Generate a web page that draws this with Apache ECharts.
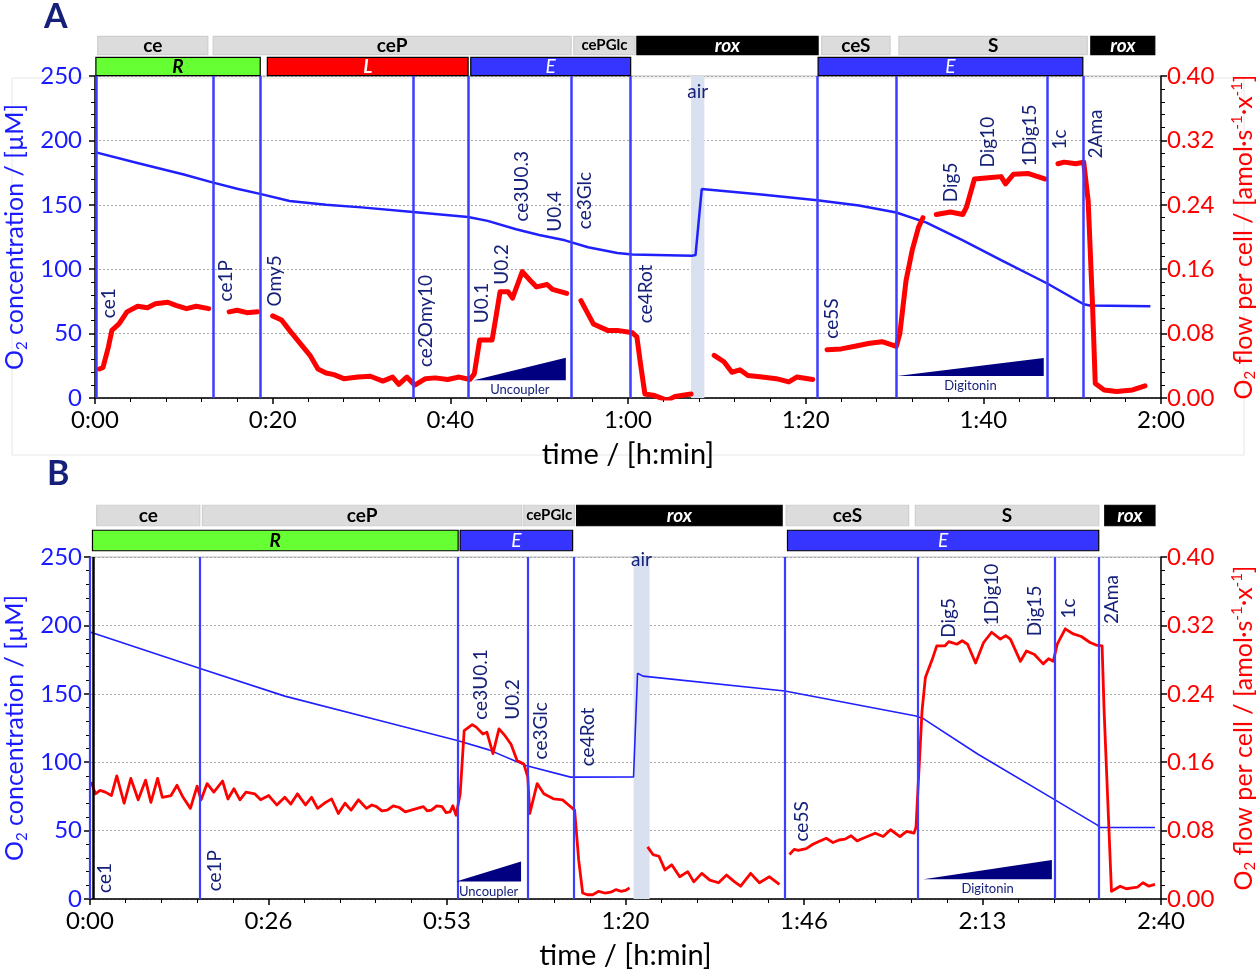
<!DOCTYPE html>
<html>
<head>
<meta charset="utf-8">
<script src="https://cdn.jsdelivr.net/npm/echarts@6.0.0/dist/echarts.min.js"></script>
<style>
  html, body { margin: 0; background: #fff; }
  #chart { width: 1258px; height: 972px; }
</style>
</head>
<body>
<div id="chart"></div>
<script>
// ---- panel A data (time in min, O2 in µM, flow in amol/s/x) ----
const o2A = [[0, 190.9], [5, 182], [10, 173.5], [13.2, 167.4], [16, 162.5], [18.7, 158.3], [21.9, 153],
  [26, 150], [30, 148], [35.8, 144.5], [42, 140.6], [44.2, 137.5], [47.4, 131], [50, 126.5], [52.9, 122.4],
  [55.5, 117], [58.8, 112.5], [60.5, 111.5], [67.2, 110.4], [67.6, 111], [68.3, 162.2], [75, 158],
  [81.3, 153.6], [86, 149.5], [90.2, 144], [93.6, 136.2], [97.7, 122.4], [102, 107], [107.2, 88.9],
  [111.3, 72.8], [112, 71.8], [118.8, 71.2]];
const fluxA = [
  [[0.5, 0.036], [0.9, 0.038], [1.5, 0.063], [1.9, 0.084], [2.7, 0.092], [3.6, 0.107], [4.8, 0.114], [5.9, 0.112],
   [6.8, 0.117], [8.2, 0.119], [9.1, 0.115], [10.3, 0.111], [11.4, 0.114], [12.8, 0.111]],
  [[15.1, 0.107], [16.0, 0.109], [17.1, 0.106], [18.3, 0.107]],
  [[20.0, 0.102], [21.0, 0.097], [21.9, 0.084], [23.3, 0.065], [24.2, 0.053], [25.1, 0.036], [26.0, 0.031],
   [26.9, 0.029], [28.0, 0.024], [29.6, 0.026], [31.0, 0.027], [32.4, 0.021], [33.5, 0.026], [34.2, 0.017],
   [35.1, 0.026], [36.0, 0.016], [37.2, 0.024], [38.3, 0.025], [39.7, 0.023], [41.0, 0.026], [42.2, 0.023],
   [42.7, 0.030], [43.3, 0.072], [44.7, 0.072], [45.2, 0.105], [45.6, 0.132], [46.5, 0.132], [47.0, 0.124],
   [48.1, 0.157], [49.0, 0.146], [49.7, 0.138], [50.9, 0.141], [51.5, 0.135], [53.1, 0.130]],
  [[54.7, 0.121], [56.1, 0.092], [57.7, 0.084], [58.8, 0.084], [60.5, 0.081], [61.0, 0.076], [61.4, 0.043],
   [61.9, 0.005], [63.0, 0.003], [64.4, -0.003], [65.3, 0.002], [67.1, 0.005]],
  [[69.7, 0.053], [70.8, 0.045], [71.7, 0.032], [72.6, 0.035], [73.5, 0.028], [75.1, 0.026], [76.7, 0.024],
   [78.1, 0.020], [79.0, 0.026], [80.8, 0.023]],
  [[82.4, 0.060], [84.0, 0.061], [85.4, 0.064], [87.2, 0.068], [88.6, 0.070], [90.2, 0.064], [90.6, 0.080],
   [91.3, 0.146], [92.0, 0.184], [92.7, 0.212], [93.2, 0.224]],
  [[94.7, 0.228], [96.3, 0.231], [97.7, 0.228], [98.1, 0.237], [99.0, 0.272], [100.9, 0.274], [102.0, 0.275],
   [102.5, 0.266], [103.4, 0.278], [105.0, 0.279], [107.0, 0.272]],
  [[108.4, 0.291], [109.1, 0.293], [110.4, 0.291], [111.3, 0.293], [111.8, 0.245], [112.3, 0.113], [112.6, 0.018],
   [113.6, 0.010], [115.0, 0.008], [116.8, 0.010], [118.2, 0.015]]
];
const eventsA = [0.1, 13.3, 18.6, 35.8, 42.0, 53.6, 60.3, 81.3, 90.2, 107.2, 111.2];
const labelsA = [['ce1', 1.6, 62], ['ce1P', 14.7, 75], ['Omy5', 20.3, 71], ['ce2Omy10', 37.3, 24],
  ['U0.1', 43.6, 58], ['U0.2', 45.8, 88], ['ce3U0.3', 48.1, 137], ['U0.4', 51.8, 129], ['ce3Glc', 55.2, 131],
  ['ce4Rot', 62.05, 58], ['ce5S', 83, 46], ['Dig5', 96.3, 152], ['Dig10', 100.5, 179], ['1Dig15', 105.2, 180],
  ['1c', 108.6, 193], ['2Ama', 112.7, 186]];
const airA = [67.1, 68.6, 238];
const rampsA = [['Uncoupler', 42.65, 53.0, 13.7, 31.3, 6], ['Digitonin', 90.3, 106.8, 17.1, 31.1, 9.6]];
const bandsA = [['ce', 0.3, 12.7], ['ceP', 13.3, 53.6], ['cePGlc', 53.9, 60.8], ['rox', 61.0, 81.4],
  ['ceS', 81.8, 89.5], ['S', 90.5, 111.7], ['rox', 112.1, 119.3],
  ['R', 0.1, 18.6], ['L', 19.4, 42.0], ['E', 42.3, 60.3], ['E', 81.4, 111.2]];

// ---- panel B data ----
const o2B = [[0, 195.1], [16.45, 168.5], [29.1, 148.3], [43.4, 130.3], [55, 115.7], [59.6, 109], [65.1, 97.6],
  [71.8, 89.1], [81.2, 89.2], [81.8, 165], [82.6, 162.9], [103.8, 152], [123.4, 133.8], [124.6, 131.5],
  [132.6, 106], [144.1, 72.6], [150.5, 54], [150.9, 52.3], [159.1, 52.3]];
const fluxB = [
  [[0.2, 0.137], [0.8, 0.123], [1.5, 0.127], [2.3, 0.125], [3.2, 0.121], [4.0, 0.144], [5.1, 0.112], [6.1, 0.141],
   [7.2, 0.116], [8.3, 0.139], [9.1, 0.113], [10.1, 0.141], [10.8, 0.119], [12.1, 0.121], [13.0, 0.133],
   [13.9, 0.119], [15.0, 0.106], [16.0, 0.132], [16.6, 0.116], [17.5, 0.135], [18.5, 0.125], [19.8, 0.138],
   [20.6, 0.117], [21.5, 0.129], [22.4, 0.116], [23.3, 0.125], [24.6, 0.123], [25.5, 0.116], [26.7, 0.121],
   [27.9, 0.110], [29.1, 0.119], [30.0, 0.111], [31.0, 0.123], [32.2, 0.110], [33.1, 0.119], [34.0, 0.106],
   [35.2, 0.113], [36.1, 0.117], [37.1, 0.100], [38.1, 0.112], [39.0, 0.104], [40.1, 0.116], [41.3, 0.106],
   [42.1, 0.110], [42.8, 0.108], [43.6, 0.103], [44.4, 0.104], [45.3, 0.109], [46.2, 0.107], [47.1, 0.102],
   [48.0, 0.104], [48.9, 0.106], [49.8, 0.108], [50.4, 0.103], [51.0, 0.104], [51.8, 0.109], [52.6, 0.108],
   [53.2, 0.101], [53.8, 0.102], [54.2, 0.109], [54.7, 0.098],
   [55.3, 0.123], [55.9, 0.197], [57.1, 0.204], [57.7, 0.201], [58.7, 0.193], [59.3, 0.195], [60.2, 0.170],
   [61.1, 0.199], [62.0, 0.191], [62.9, 0.181], [63.8, 0.162], [64.8, 0.158], [65.4, 0.143], [65.7, 0.100],
   [66.8, 0.135], [67.8, 0.123], [69.3, 0.117], [70.6, 0.116], [71.5, 0.110], [72.4, 0.104], [73.0, 0.046],
   [73.6, 0.007], [74.3, 0.005], [75.1, 0.005], [76.0, 0.009], [76.9, 0.007], [77.8, 0.008], [78.6, 0.011],
   [79.3, 0.009], [80.0, 0.010], [80.6, 0.013]],
  [[83.3, 0.061], [84.1, 0.052], [85.0, 0.050], [85.9, 0.034], [86.9, 0.040], [88.1, 0.026], [89.3, 0.032],
   [90.2, 0.020], [91.4, 0.030], [92.6, 0.022], [93.9, 0.019], [95.1, 0.028], [96.3, 0.020], [97.2, 0.015],
   [98.7, 0.030], [100.0, 0.019], [101.5, 0.026], [103.0, 0.017]],
  [[104.5, 0.052], [105.2, 0.058], [105.8, 0.057], [107.0, 0.059], [108.0, 0.064], [108.8, 0.067],
   [110.0, 0.071], [111.0, 0.066], [111.9, 0.069], [112.8, 0.070], [113.7, 0.074], [114.6, 0.068],
   [115.5, 0.071], [116.4, 0.074], [117.3, 0.077], [118.5, 0.073], [119.6, 0.081], [121.0, 0.073],
   [122.0, 0.079], [123.1, 0.077], [123.4, 0.084],
   [124.3, 0.220], [124.8, 0.259], [125.9, 0.282], [126.5, 0.296], [127.7, 0.296], [128.3, 0.301],
   [129.5, 0.298], [130.3, 0.302], [131.1, 0.298], [132.3, 0.276], [133.5, 0.300], [134.7, 0.312],
   [136.0, 0.304], [136.8, 0.308], [137.5, 0.304], [139.0, 0.278], [139.9, 0.290], [141.1, 0.286],
   [142.4, 0.275], [143.2, 0.281], [143.9, 0.278], [144.5, 0.298], [145.7, 0.316], [146.9, 0.310],
   [148.1, 0.307], [149.4, 0.300], [150.3, 0.297], [151.2, 0.296], [151.5, 0.220], [152.6, 0.009],
   [153.9, 0.015], [154.8, 0.012], [155.7, 0.013], [156.5, 0.014], [157.3, 0.019], [158.2, 0.015],
   [159.1, 0.017]]
];
const eventsB = [0, 16.45, 55.0, 65.4, 72.2, 103.8, 123.6, 144.1, 150.7];
const startMarkB = [0.45];
const labelsB = [['ce1', 2.2, 4.4], ['ce1P', 18.65, 5.6], ['ce3U0.1', 58.4, 131], ['U0.2', 63.1, 131],
  ['ce3Glc', 67.3, 102], ['ce4Rot', 74.4, 97], ['ce5S', 106.4, 42], ['Dig5', 128.3, 191],
  ['1Dig10', 134.7, 200], ['Dig15', 141.2, 192], ['1c', 146.3, 205], ['2Ama', 152.7, 201]];
const airB = [81.2, 83.6, 248];
const rampsB = [['Uncoupler', 54.7, 64.4, 12.8, 27.4, 5.6], ['Digitonin', 124.5, 143.7, 14.5, 28.6, 7.5]];
const bandsB = [['ce', 1.0, 16.4], ['ceP', 16.8, 64.5], ['cePGlc', 64.8, 72.4], ['rox', 72.7, 103.4],
  ['ceS', 104.0, 122.3], ['S', 123.3, 150.7], ['rox', 151.6, 159.1],
  ['R', 0.37, 55.0], ['E', 55.3, 72.1], ['E', 104.2, 150.7]];

const ticksA = { min: 0, max: 120, interval: 20 };
const ticksB = { min: 0, max: 160, interval: 80 / 3 };
const o2Ticks = { min: 0, max: 250, interval: 50 };
const fluxTicks = { min: 0, max: 0.4, interval: 0.08 };

// ---- styling ----
const FONT = 'Lato, "Open Sans", sans-serif';
const NAVY = '#16217a';
const BLUE = '#1a1aff';
const RED = '#ff0000';
const LINEBLUE = '#3d3dff';

function hmm(v) {
  const m = Math.floor(v + 1e-6);
  return Math.floor(m / 60) + ':' + String(m % 60).padStart(2, '0');
}

function joinSegments(segs) {
  const out = [];
  segs.forEach((s, i) => {
    if (i) out.push([(out[out.length - 1][0] + s[0][0]) / 2, null]);
    s.forEach(p => out.push(p));
  });
  return out;
}

const rowTwo = ['R', 'L', 'E'];
function bandLook(name) {
  if (name === 'rox') return { fill: '#000', stroke: '#000', color: '#fff', font: 'italic bold 19px ' + FONT };
  if (name === 'R') return { fill: '#66ff33', stroke: '#000', color: '#000', font: 'italic bold 19px ' + FONT };
  if (name === 'L') return { fill: '#ff0000', stroke: '#000', color: '#fff', font: 'italic bold 19px ' + FONT };
  if (name === 'E') return { fill: '#3535ff', stroke: '#000', color: '#fff', font: 'italic 19px ' + FONT };
  const small = name.length > 4;
  return { fill: '#dcdcdc', stroke: '#cfcfcf', color: '#000', font: 'bold ' + (small ? 15 : 19) + 'px ' + FONT };
}

function bandSeries(bands, xi, yi, fill) {
  return {
    type: 'custom', xAxisIndex: xi, yAxisIndex: yi, clip: false, silent: true,
    data: bands.map(b => [b[1], b[2], rowTwo.includes(b[0]) ? 0.5 : 1.5]),
    encode: { x: [0, 1], y: 2 },
    renderItem: (params, api) => {
      const b = bands[params.dataIndex];
      const row = api.value(2);
      const p0 = api.coord([b[1], row]);
      const p1 = api.coord([b[2], row]);
      const h = api.size([0, 1])[1] * fill;
      const look = bandLook(b[0]);
      return {
        type: 'rect',
        shape: { x: p0[0], y: p0[1] - h / 2, width: p1[0] - p0[0], height: h },
        style: { fill: look.fill, stroke: look.stroke, lineWidth: 1.2 },
        textContent: { style: { text: b[0], fill: look.color, font: look.font } },
        textConfig: { position: 'inside' }
      };
    }
  };
}

function rampSeries(ramps, xi, yi) {
  return {
    type: 'custom', xAxisIndex: xi, yAxisIndex: yi, clip: false, silent: true, z: 5,
    data: ramps.map(r => [r[1], r[2], r[3], r[4]]),
    encode: { x: [0, 1], y: [2, 3] },
    renderItem: (params, api) => {
      const r = ramps[params.dataIndex];
      const a = api.coord([r[1], r[3]]);
      const b = api.coord([r[2], r[4]]);
      const c = api.coord([r[2], r[3]]);
      const t = api.coord([(r[1] + r[2]) / 2, r[5]]);
      return {
        type: 'group',
        children: [
          { type: 'polygon', shape: { points: [a, b, c] }, style: { fill: '#000080' } },
          { type: 'text', x: t[0], y: t[1],
            style: { text: r[0], fill: NAVY, font: '13px ' + FONT, align: 'center', verticalAlign: 'middle' } }
        ]
      };
    }
  };
}

function eventSeries(events, air, xi, yi, width) {
  return {
    type: 'line', xAxisIndex: xi, yAxisIndex: yi, data: [], z: 1, silent: true,
    markLine: {
      silent: true, symbol: ['none', 'none'], label: { show: false },
      lineStyle: { color: LINEBLUE, width: width, type: 'solid' },
      data: events.map(t => ({ xAxis: t }))
    },
    markArea: {
      silent: true, itemStyle: { color: '#d9e1f1' },
      data: [[{ xAxis: air[0] }, { xAxis: air[1] }]]
    }
  };
}

const eventLabel = { show: true, formatter: '{b}', position: [0, 0], verticalAlign: 'middle',
  color: NAVY, fontSize: 19, fontFamily: FONT, textBorderWidth: 0, opacity: 1 };

function labelSeries(labels, air, xi, yi) {
  return [{
    type: 'scatter', xAxisIndex: xi, yAxisIndex: yi, symbolSize: 0, z: 6, silent: true,
    itemStyle: { color: NAVY },
    data: labels.map(l => ({ name: l[0], value: [l[1], l[2]] })),
    label: Object.assign({}, eventLabel, { rotate: 90, align: 'left' })
  }, {
    type: 'scatter', xAxisIndex: xi, yAxisIndex: yi, symbolSize: 0, z: 6, silent: true,
    itemStyle: { color: NAVY },
    data: [{ name: 'air', value: [(air[0] + air[1]) / 2, air[2]] }],
    label: Object.assign({}, eventLabel, { align: 'center' })
  }];
}

function xAxisFor(grid, ticks) {
  return {
    type: 'value', gridIndex: grid, min: ticks.min, max: ticks.max, interval: ticks.interval,
    name: 'time / [h:min]', nameLocation: 'middle', nameGap: 42,
    nameTextStyle: { color: '#000', fontSize: 29, fontFamily: FONT },
    axisLine: { lineStyle: { color: '#000', width: 1.5 } },
    axisTick: { length: 6, lineStyle: { color: '#000', width: 1.5 } },
    minorTick: { show: true, splitNumber: 5, length: 4, lineStyle: { color: '#000' } },
    axisLabel: { color: '#000', fontSize: 24, fontFamily: FONT, margin: 10, formatter: hmm },
    splitLine: { show: false }
  };
}

function hiddenX(grid, ticks) {
  return { type: 'value', gridIndex: grid, min: ticks.min, max: ticks.max, show: false };
}

const leftName = 'O{s|2} concentration / [µM]';
const rightName = 'O{s|2} flow per cell / [amol·s{p|-1}·x{p|-1}]';

function o2Axis(grid, offset) {
  return {
    type: 'value', gridIndex: grid, position: 'left', offset: offset,
    min: o2Ticks.min, max: o2Ticks.max, interval: o2Ticks.interval,
    name: leftName, nameLocation: 'middle', nameGap: 58,
    nameTextStyle: { color: BLUE, fontSize: 25, fontFamily: FONT,
      rich: { s: { color: BLUE, fontSize: 15, fontFamily: FONT, padding: [14, 0, 0, 0] } } },
    axisLine: { show: true, lineStyle: { color: '#000', width: 1.5 } },
    axisTick: { show: true, length: 6, lineStyle: { color: '#000', width: 1.5 } },
    minorTick: { show: true, splitNumber: 5, length: 4, lineStyle: { color: '#000' } },
    axisLabel: { color: BLUE, fontSize: 24, fontFamily: FONT, margin: 8 },
    splitLine: { show: true, lineStyle: { color: '#a8a8a8', type: [2, 2], width: 1 } }
  };
}

function fluxAxis(grid) {
  return {
    type: 'value', gridIndex: grid, position: 'right',
    min: fluxTicks.min, max: fluxTicks.max, interval: fluxTicks.interval,
    name: rightName, nameLocation: 'middle', nameGap: 68,
    nameTextStyle: { color: RED, fontSize: 25, fontFamily: FONT,
      rich: {
        s: { color: RED, fontSize: 15, fontFamily: FONT, padding: [14, 0, 0, 0] },
        p: { color: RED, fontSize: 15, fontFamily: FONT, padding: [0, 0, 12, 0] }
      } },
    axisLine: { show: true, lineStyle: { color: '#000', width: 1.5 } },
    axisTick: { show: true, length: 6, lineStyle: { color: '#000', width: 1.5 } },
    minorTick: { show: true, splitNumber: 5, length: 4, lineStyle: { color: '#000' } },
    axisLabel: { color: RED, fontSize: 24, fontFamily: FONT, margin: 6, formatter: v => v.toFixed(2) },
    splitLine: { show: false }
  };
}

function bandAxis(grid) {
  return { type: 'value', gridIndex: grid, min: 0, max: 2, show: false };
}

const option = {
  animation: false,
  backgroundColor: '#fff',
  grid: [
    { left: 95, right: 97, top: 76, height: 322, show: true, borderColor: '#b5b5b5', borderWidth: 1,
      outerBoundsMode: 'none' },
    { left: 95, right: 97, top: 35, height: 42, outerBoundsMode: 'none' },
    { left: 90, right: 97, top: 557, height: 342, show: true, borderColor: '#b5b5b5', borderWidth: 1,
      outerBoundsMode: 'none' },
    { left: 90, right: 97, top: 503, height: 50, outerBoundsMode: 'none' }
  ],
  xAxis: [xAxisFor(0, ticksA), hiddenX(1, ticksA), xAxisFor(2, ticksB), hiddenX(3, ticksB)],
  yAxis: [o2Axis(0, 5), fluxAxis(0), bandAxis(1), o2Axis(2, 0), fluxAxis(2), bandAxis(3)],
  graphic: [
    { type: 'rect', z: -10, shape: { x: 12, y: 78, width: 1232, height: 377 },
      style: { fill: 'none', stroke: '#e6e6e6', lineWidth: 1 } },
    { type: 'text', left: 44, top: 0, style: { text: 'A', fill: '#16207a', font: 'bold 34px ' + FONT } },
    { type: 'text', left: 47, top: 457, style: { text: 'B', fill: '#16207a', font: 'bold 34px ' + FONT } }
  ],
  series: [
    eventSeries(eventsA, airA, 0, 0, 2.5),
    { type: 'line', xAxisIndex: 0, yAxisIndex: 0, data: o2A, showSymbol: false, z: 3, silent: true,
      lineStyle: { color: '#2020ff', width: 2.5 } },
    { type: 'line', xAxisIndex: 0, yAxisIndex: 1, data: joinSegments(fluxA), showSymbol: false, z: 4,
      silent: true, connectNulls: false, lineStyle: { color: RED, width: 5, cap: 'round', join: 'round' } },
    ...labelSeries(labelsA, airA, 0, 0),
    rampSeries(rampsA, 0, 0),
    bandSeries(bandsA, 1, 2, 0.86),

    eventSeries(eventsB, airB, 2, 3, 2.2),
    { type: 'line', xAxisIndex: 2, yAxisIndex: 3, data: [], z: 2, silent: true,
      markLine: { silent: true, symbol: ['none', 'none'], label: { show: false },
        lineStyle: { color: '#000', width: 2.5, type: 'solid' }, data: startMarkB.map(t => ({ xAxis: t })) } },
    { type: 'line', xAxisIndex: 2, yAxisIndex: 3, data: o2B, showSymbol: false, z: 3, silent: true,
      lineStyle: { color: '#2020ff', width: 1.6 } },
    { type: 'line', xAxisIndex: 2, yAxisIndex: 4, data: joinSegments(fluxB), showSymbol: false, z: 4,
      silent: true, connectNulls: false, lineStyle: { color: RED, width: 2.8, join: 'round' } },
    ...labelSeries(labelsB, airB, 2, 3),
    rampSeries(rampsB, 2, 3),
    bandSeries(bandsB, 3, 5, 0.82)
  ]
};

const chart = echarts.init(document.getElementById('chart'));
chart.setOption(option);
</script>
</body>
</html>
